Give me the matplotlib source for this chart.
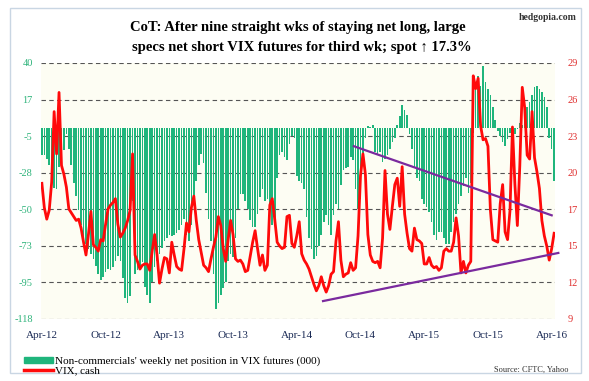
import numpy as np
import pandas as pd
import matplotlib
matplotlib.use("Agg")
import matplotlib.pyplot as plt
from matplotlib.patches import Patch, Rectangle
from matplotlib.lines import Line2D

plt.rcParams['font.family'] = ['Liberation Serif', 'DejaVu Serif']

# weekly CoT data, Apr-12 .. Apr-16
dates = pd.date_range('2012-04-03', periods=210, freq='7D')

net_pos = [
    -17, -17, -19, -23, -26, -37, -38, -24, -22, -14,
    -4, -13, -23, -34, -42, -51, -60, -68, -72, -75,
    -78, -81, -85, -90, -94, -92, -89, -87, -88, -86,
    -82, -79, -82, -93, -105, -108, -104, -45, -90, -88,
    -86, -83, -98, -103, -108, -95, -86, -82, -78, -74,
    -70, -68, -66, -67, -66, -65, -63, -60, -56, -66,
    -70, -60, -45, -33, -23, -16, -22, -40, -56, -70,
    -90, -112, -108, -103, -99, -95, -82, -78, -80, -68,
    -50, -41, -41, -45, -50, -57, -61, -61, -53, -43,
    -38, -45, -44, -50, -60, -57, -31, -17, -15, -18,
    -20, -10, -5, -6, -30, -33, -34, -38, -55, -68,
    -75, -81, -79, -73, -66, -58, -54, -60, -66, -54,
    -47, -50, -35, -26, -25, -24, -18, -20, -38, -50,
    -44, -20, -6, 1, 0.5, 1.5, -15, -17, -15, -21,
    -19, -17, -13, -9, -6, 2, 7, 14, 11, 8,
    -4, -13, -25, -31, -33, -44, -47, -49, -52, -58,
    -66, -69, -64, -64, -68, -72, -72, -64, -58, -53,
    -47, -42, -36, -31, -40, -34, -3, 24, 32, 26,
    38, 28, 24, 20, 13, 5, -2, -5, -9, -11,
    -7, -3, -7, -4, -1, 3, 2, 7, 13, 16,
    20, 25, 26, 24, 22, 19, 13, -6, -13, -33,
]

vix = [
    19.6, 17.7, 16.8, 17.5, 19.7, 25.2, 21.9, 26.7, 21.0, 20.3,
    19.3, 17.6, 17.3, 17.0, 16.7, 16.8, 16.1, 15.0, 14.0, 15.6,
    17.4, 14.8, 14.6, 14.3, 15.2, 15.1, 16.4, 17.6, 17.9, 18.1,
    18.4, 16.4, 15.4, 15.7, 16.1, 16.7, 17.5, 21.9, 14.0, 13.5,
    12.9, 13.2, 13.3, 13.3, 12.8, 14.3, 15.6, 14.0, 11.8, 12.9,
    13.8, 13.7, 12.6, 15.0, 14.0, 13.1, 12.9, 12.8, 14.5, 16.5,
    15.8, 17.7, 18.6, 16.7, 15.2, 14.2, 13.2, 13.0, 12.7, 13.7,
    14.6, 15.4, 17.0, 16.3, 14.5, 13.5, 15.2, 16.7, 15.6, 13.7,
    13.5, 13.6, 13.3, 12.7, 12.8, 13.9, 15.0, 15.9, 14.5, 13.2,
    14.0, 12.8, 13.2, 17.9, 18.4, 16.8, 15.0, 14.7, 14.5, 14.6,
    17.0, 17.1, 14.9, 14.6, 15.5, 16.6, 14.1, 13.6, 13.3, 12.9,
    12.3, 11.7, 11.2, 11.6, 12.3, 11.6, 11.1, 11.6, 12.5, 12.7,
    15.1, 16.6, 13.6, 12.3, 12.5, 12.6, 13.4, 12.8, 13.0, 15.5,
    20.2, 21.9, 20.3, 15.6, 14.0, 13.5, 13.4, 13.5, 13.0, 15.3,
    20.6, 17.2, 16.0, 17.8, 19.5, 20.0, 17.8, 20.9, 17.2, 15.7,
    14.5, 14.3, 16.1, 15.2, 15.1, 14.9, 13.3, 13.3, 13.8, 13.2,
    13.0, 13.1, 12.8, 13.0, 14.3, 14.5, 14.3, 14.3, 15.0, 16.9,
    15.5, 12.6, 13.5, 12.6, 13.2, 13.5, 28.0, 27.0, 27.8, 24.1,
    23.0, 23.1, 22.5, 17.5, 15.2, 15.1, 15.0, 18.0, 19.5, 15.8,
    15.2, 17.5, 24.0, 19.5, 16.3, 21.0, 27.1, 25.5, 21.8, 21.5,
    25.2, 21.6, 20.5, 19.2, 16.7, 15.5, 14.7, 13.6, 14.5, 15.7,
]

# trend lines drawn on the VIX
upper_trend = (['2014-09-11', '2016-03-29'], [22.5, 17.1])
lower_trend = (['2014-06-15', '2016-04-17'], [10.4, 14.16])

xlabels = ['Apr-12', 'Oct-12', 'Apr-13', 'Oct-13', 'Apr-14',
           'Oct-14', 'Apr-15', 'Oct-15', 'Apr-16']
left_labels = ['40', '17', '-5', '-28', '-50', '-73', '-95', '-118']
right_labels = ['29', '26', '23', '20', '17', '15', '12', '9']

green = '#1fb57c'
red = '#ff0a0a'
purple = '#7a2a9e'

fig = plt.figure(figsize=(5.89, 3.81), dpi=100)
fig.patch.set_facecolor('white')
ax = fig.add_axes([41/589, 1 - 319/381, (555-41)/589, (319-63)/381])
ax.set_facecolor('#fdfdf3')

ax.bar(dates, net_pos, width=4.6, color=green, zorder=2)
ax.set_ylim(-118, 40)
lt = np.linspace(40, -118, 8)
ax.set_yticks(lt)
ax.set_yticklabels(left_labels)
for y in lt:
    ax.axhline(y, color='#555555', lw=0.8, ls=(0, (4, 3)), zorder=1)

ax2 = ax.twinx()
ax2.plot(dates, vix, color=red, lw=2.0, zorder=3)
ax2.plot(pd.to_datetime(upper_trend[0]), upper_trend[1], color=purple, lw=1.6, zorder=4)
ax2.plot(pd.to_datetime(lower_trend[0]), lower_trend[1], color=purple, lw=1.6,
         zorder=4, clip_on=False)
ax2.set_ylim(9, 29)
ax2.set_yticks(np.linspace(29, 9, 8))
ax2.set_yticklabels(right_labels)

ax.set_xlim(dates[0] - pd.Timedelta(days=2.5), dates[-1] + pd.Timedelta(days=2.5))
ax.set_xticks(dates[::26])
ax.set_xticklabels(xlabels)

for a in (ax, ax2):
    for s in a.spines.values():
        s.set_visible(False)
ax.tick_params(axis='x', length=0, pad=9, labelsize=8, labelcolor='#1a2a55')
ax.tick_params(axis='y', length=0, pad=6, labelsize=7.5, labelcolor='#2db37a')
ax2.tick_params(axis='y', length=0, pad=9, labelsize=7.5, labelcolor='#e03030')

fig.text(0.506, 1 - 28/381, 'CoT: After nine straight wks of staying net long, large',
         ha='center', va='center', fontsize=10.5, fontweight='bold')
fig.text(0.512, 1 - 47/381, 'specs net short VIX futures for third wk; spot \u2191 17.3%',
         ha='center', va='center', fontsize=10.5, fontweight='bold')
fig.text(577/589, 1 - 17/381, 'hedgopia.com', ha='right', va='center',
         fontsize=7, fontweight='bold', color='#333333')
fig.text(568/589, 1 - 370/381, 'Source: CFTC, Yahoo', ha='right', va='center',
         fontsize=6, color='#333333')

handles = [Patch(color=green), Line2D([], [], color=red, lw=2.5)]
fig.legend(handles, ["Non-commercials' weekly net position in VIX futures (000)", 'VIX, cash'],
           loc='lower left', bbox_to_anchor=(20/589, 1 - 380/381), frameon=False,
           fontsize=8, handlelength=2.6, handleheight=0.45, handletextpad=0.15,
           labelspacing=0.05, borderaxespad=0)

fig.patches.append(Rectangle((10/589, 8/381), 571/589, 365/381, transform=fig.transFigure,
                             fill=False, edgecolor='#c9d6e3', lw=1))

fig.savefig('out.png', dpi=100)
